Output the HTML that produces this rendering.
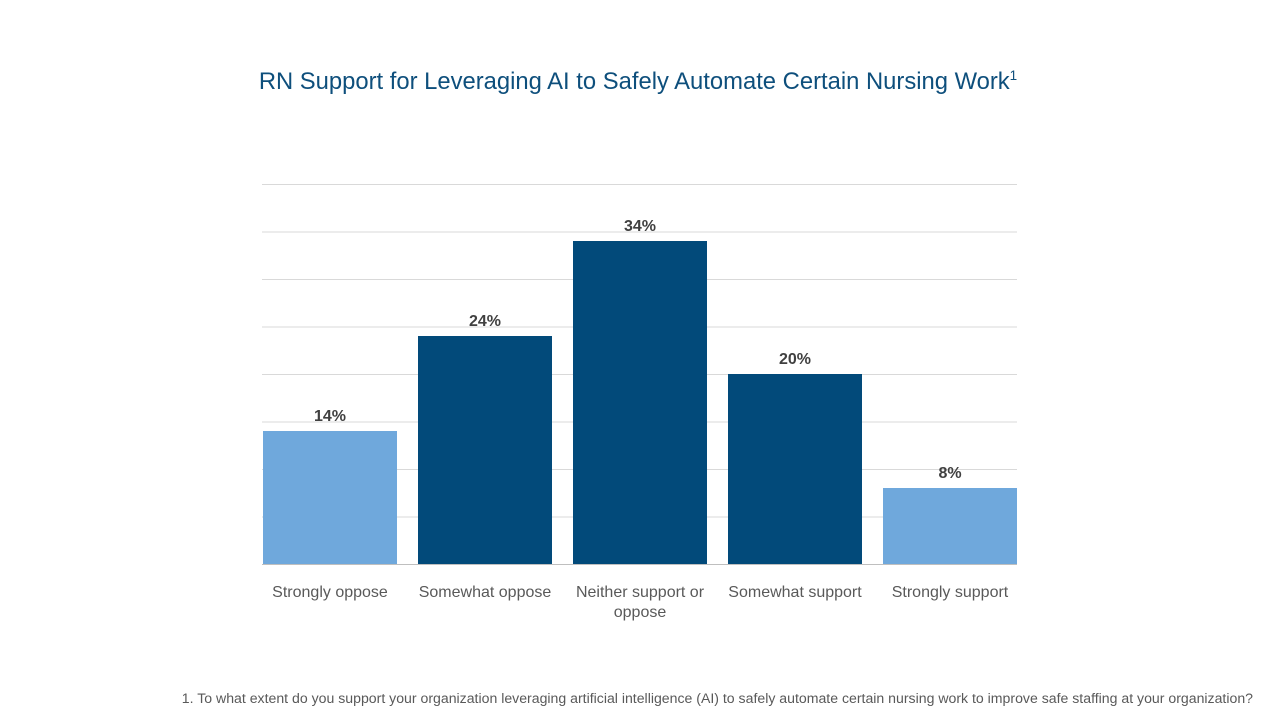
<!DOCTYPE html>
<html><head><meta charset="utf-8"><style>
html,body{margin:0;padding:0;background:#fff;}
body{width:1280px;height:720px;overflow:hidden;font-family:"Liberation Sans",sans-serif;}
</style></head><body>
<svg id="chart" width="1280" height="720" xmlns="http://www.w3.org/2000/svg">
<text x="638" y="89" text-anchor="middle" font-size="23.8" fill="#0e4f7c">RN Support for Leveraging AI to Safely Automate Certain Nursing Work<tspan font-size="13.5" dy="-9">1</tspan></text>
<g id="grid"></g>
<g id="bars"></g>
<g id="labels"></g>
<text x="1253" y="703" text-anchor="end" font-size="14.1" fill="#595959">1. To what extent do you support your organization leveraging artificial intelligence (AI) to safely automate certain nursing work to improve safe staffing at your organization?</text>
</svg>
<script>
const categories = [["Strongly oppose"],["Somewhat oppose"],["Neither support or","oppose"],["Somewhat support"],["Strongly support"]];
const values = [14, 24, 34, 20, 8];
const valueLabels = ["14%","24%","34%","20%","8%"];
const colorGroup = ["light","dark","dark","dark","light"];
const yTicks = [0,5,10,15,20,25,30,35,40];
const NS="http://www.w3.org/2000/svg";
const plotL=262, plotR=1017, base=564, top_=184, yMax=40;
const y = v => base - (v/yMax)*(base-top_);
const barW=134, step=155, firstX=263;
const x = i => firstX + i*step;
function mk(tag, attrs, parent){const e=document.createElementNS(NS,tag);for(const k in attrs)e.setAttribute(k,attrs[k]);parent.appendChild(e);return e;}
const g=document.getElementById('grid'), b=document.getElementById('bars'), l=document.getElementById('labels');
yTicks.forEach(t=>{
  const ln=mk('line',{x1:plotL,x2:plotR,y1:y(t)+0.5,y2:y(t)+0.5,stroke:t===0?'#bfbfbf':'#d9d9d9','stroke-width':1},g);
  
  
});
values.forEach((v,i)=>{
  const r=mk('rect',{x:x(i),y:y(v),width:barW,height:base-y(v),fill:colorGroup[i]==='light'?'#6fa8dc':'#024a7a'},b);
  
  
  const t=mk('text',{x:x(i)+barW/2,y:y(v)-10,'text-anchor':'middle','font-size':16,'font-weight':'bold',fill:'#404040'},l);
  t.textContent=valueLabels[i];
  
  
  categories[i].forEach((line,j)=>{
    const c=mk('text',{x:x(i)+barW/2,y:597+j*20,'text-anchor':'middle','font-size':16,fill:'#595959'},l);
    c.textContent=line;
    
    
  });
});
</script>
</body></html>
